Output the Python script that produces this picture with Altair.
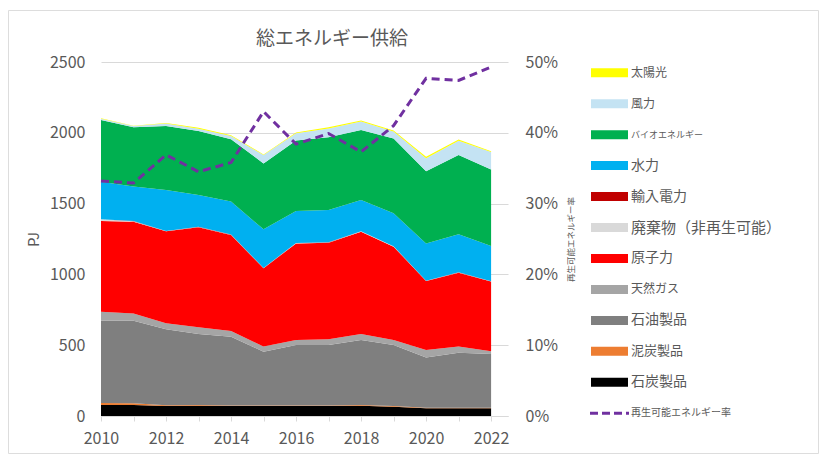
import altair as alt
import pandas as pd

years = list(range(2010, 2023))

coal =     [78, 78, 70, 72, 70, 70, 70, 70, 72, 65, 55, 55, 55]
peat =     [14, 12, 6, 6, 5, 5, 5, 5, 5, 5, 4, 4, 3]
oil =      [581, 583, 536, 501, 485, 379, 426, 426, 460, 431, 355, 388, 380]
gas =      [64, 50, 43, 47, 40, 36, 36, 41, 42, 36, 52, 43, 20]
nuclear =  [640, 649, 649, 707, 678, 553, 682, 682, 723, 659, 487, 522, 491]
waste =    [12, 4, 2, 2, 2, 2, 2, 2, 2, 2, 2, 2, 2]
imported = [1, 1, 1, 1, 1, 1, 1, 1, 1, 1, 1, 1, 1]
hydro =    [265, 243, 289, 225, 233, 272, 226, 228, 220, 232, 263, 268, 249]
bio =      [435, 420, 452, 452, 440, 466, 497, 513, 495, 529, 509, 560, 539]
wind =     [10, 8, 17, 16, 23, 59, 51, 63, 59, 50, 92, 101, 124]
solar =    [2, 2, 5, 6, 5, 4, 6, 8, 7, 7, 10, 8, 6]

rate = [0.332, 0.329, 0.369, 0.345, 0.358, 0.430, 0.384, 0.399, 0.373, 0.410, 0.477, 0.474, 0.493]

# bottom -> top stacking order
sources = ["石炭製品", "泥炭製品", "石油製品", "天然ガス", "原子力", "廃棄物（非再生可能）",
           "輸入電力", "水力", "バイオエネルギー", "風力", "太陽光"]
series = [coal, peat, oil, gas, nuclear, waste, imported, hydro, bio, wind, solar]
colors = ["#000000", "#ED7D31", "#7F7F7F", "#A5A5A5", "#FF0000", "#D9D9D9",
          "#C00000", "#00B0F0", "#00B050", "#C4E3F3", "#FFFF00"]

rate_label = "再生可能エネルギー率"
legend_items = list(reversed(sources)) + [rate_label]
legend_colors = list(reversed(colors)) + ["#7030A0"]
legend_sizes = [12, 12, 9, 14, 14, 15, 14, 12, 14, 13, 14, 10]

FONT = "Noto Sans CJK JP"
TXT = "#595959"
W, H = 810, 443

rows = []
for i, (s, vals) in enumerate(zip(sources, series)):
    for y, v in zip(years, vals):
        rows.append({"year": y, "source": s, "pj": v, "ord": i})
df = pd.DataFrame(rows)
rate_df = pd.DataFrame({"year": years, "rate": rate})
leg_df = pd.DataFrame({"item": legend_items, "col": legend_colors, "fs": legend_sizes})
title_df = pd.DataFrame({"t": ["総エネルギー供給"]})

xscale = alt.Scale(domain=[2010, 2022.52], range=[93, 500], nice=False, zero=False)
yrange = [406, 52]

areas = alt.Chart(df).mark_area(interpolate="linear").encode(
    x=alt.X("year:Q", scale=xscale,
            axis=alt.Axis(values=years, format="d", title=None, grid=False,
                          labelExpr="datum.value % 2 == 0 ? datum.label : ''",
                          labelFlush=False, labelOverlap=False,
                          domainColor="#D9D9D9", tickColor="#D9D9D9", tickSize=5,
                          labelPadding=9, labelFontSize=16, labelColor=TXT,
                          labelFont=FONT, offset=-(H - 406))),
    y=alt.Y("pj:Q", stack="zero",
            scale=alt.Scale(domain=[0, 2500], range=yrange, nice=False),
            axis=alt.Axis(values=[0, 500, 1000, 1500, 2000, 2500], title="PJ",
                          format="d", labelFlush=False,
                          domain=False, ticks=False, tickSize=0, grid=True,
                          gridColor="#D9D9D9", labelPadding=16, labelFontSize=16,
                          labelColor=TXT, labelFont=FONT, titleFont=FONT,
                          titleFontSize=15, titleFontWeight="normal",
                          titleColor=TXT, titlePadding=8, offset=-93)),
    color=alt.Color("source:N", scale=alt.Scale(domain=sources, range=colors), legend=None),
    order=alt.Order("ord:Q", sort="ascending"),
)

line = alt.Chart(rate_df).mark_line(color="#7030A0", strokeWidth=3, strokeDash=[8, 5]).encode(
    x=alt.X("year:Q", scale=xscale),
    y=alt.Y("rate:Q",
            scale=alt.Scale(domain=[0, 0.5], range=yrange, nice=False),
            axis=alt.Axis(orient="right", values=[0, 0.1, 0.2, 0.3, 0.4, 0.5],
                          format=".0%", title=rate_label, domain=False, ticks=False,
                          labelFlush=False,
                          tickSize=0, grid=False, labelPadding=17, labelFontSize=16,
                          labelColor=TXT, labelFont=FONT, titleFont=FONT,
                          titleFontSize=8.5, titleFontWeight="normal",
                          titleColor=TXT, titleAngle=270, titlePadding=18,
                          offset=500 - W)),
)

leg_y = alt.Y("item:N", scale=alt.Scale(type="point", domain=legend_items,
                                        range=[62.7, 403.3], padding=0), axis=None)

leg_sw = alt.Chart(leg_df).transform_filter(
    alt.datum.item != rate_label
).mark_rule(strokeWidth=9).encode(
    x=alt.value(583), x2=alt.value(620), y=leg_y,
    color=alt.Color("col:N", scale=None),
)

leg_line = alt.Chart(leg_df).transform_filter(
    alt.datum.item == rate_label
).mark_rule(strokeWidth=3, strokeDash=[8, 4], color="#7030A0").encode(
    x=alt.value(582), x2=alt.value(621), y=leg_y,
)

leg_txt = alt.Chart(leg_df).mark_text(align="left", baseline="middle", color=TXT,
                                      font=FONT).encode(
    x=alt.value(623), y=leg_y, text="item:N",
    size=alt.Size("fs:Q", scale=None),
)

title = alt.Chart(title_df).mark_text(align="center", baseline="middle", color=TXT,
                                      font=FONT, fontSize=19).encode(
    x=alt.value(324), y=alt.value(28.5), text="t:N",
)

chart = alt.layer(areas, line, leg_sw, leg_line, leg_txt, title).resolve_scale(
    y="independent"
).properties(
    width=W, height=H,
    padding={"left": 0, "top": 2, "right": 5, "bottom": 5},
).configure_view(
    stroke="#D9D9D9", strokeWidth=1
).configure(font=FONT)

chart.save("out.html", embed_options={"renderer": "svg", "actions": False})
